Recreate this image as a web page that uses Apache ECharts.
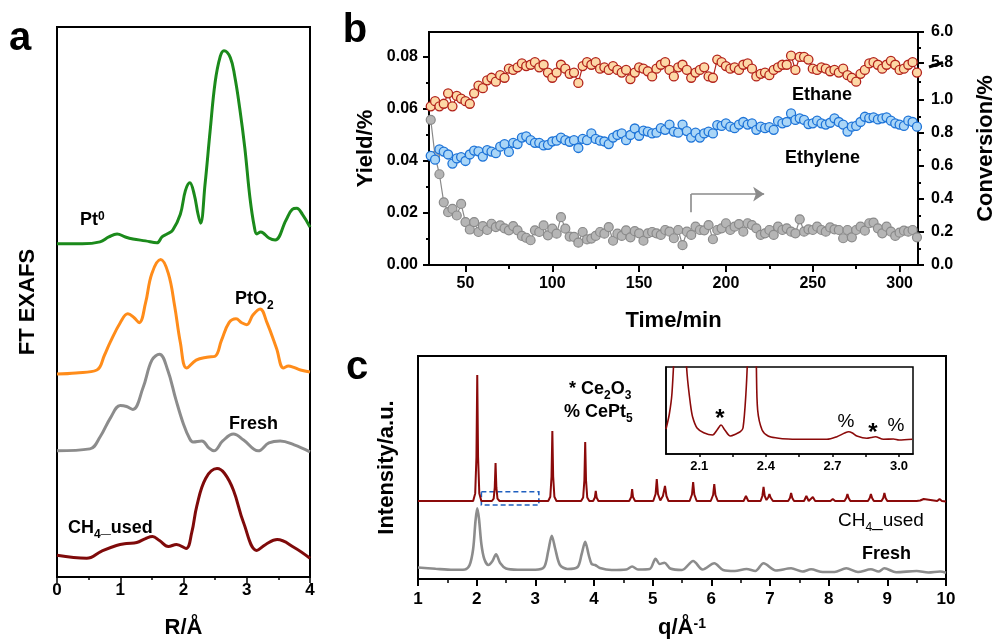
<!DOCTYPE html>
<html>
<head>
<meta charset="utf-8">
<script src="https://cdn.jsdelivr.net/npm/echarts@6/dist/echarts.min.js"></script>
<style>
  html, body { margin: 0; padding: 0; background: #fff; }
  #chart { width: 1005px; height: 644px; }
</style>
</head>
<body>
<div id="chart"></div>
<script>
const FONT = '"Liberation Sans", Arial, sans-serif';

// ---- panel a : FT EXAFS, [R, intensity a.u.] ----
const exafsPt0 = [[0,338],[0.4,338],[0.68,340],[0.82,345],[0.95,348],[1.08,345],[1.2,343],[1.4,341],[1.58,339],[1.66,345],[1.74,348],[1.83,352],[1.95,368],[2.03,392],[2.1,400],[2.17,388],[2.23,368],[2.27,359],[2.34,398],[2.42,452],[2.5,502],[2.58,528],[2.64,534],[2.74,527],[2.81,508],[2.89,475],[2.97,435],[3.05,385],[3.12,355],[3.16,348],[3.22,350],[3.26,349],[3.35,344],[3.45,342],[3.62,362],[3.72,373],[3.79,374],[3.88,368],[4.0,355]];
const exafsPtO2 = [[0,206],[0.3,207],[0.63,210],[0.75,225],[0.84,238],[1.0,258],[1.12,267],[1.22,263],[1.3,258],[1.4,278],[1.5,308],[1.64,322],[1.76,308],[1.86,275],[1.95,238],[2.05,212],[2.2,220],[2.37,223],[2.5,224],[2.6,240],[2.72,258],[2.83,262],[2.92,258],[3.0,256],[3.1,266],[3.21,272],[3.32,258],[3.47,232],[3.58,212],[3.66,214],[3.73,213],[3.85,210],[4.0,208]];
const exafsFresh = [[0,128],[0.52,130],[0.68,142],[0.85,162],[1.0,174],[1.1,173],[1.2,170],[1.36,192],[1.5,220],[1.62,226],[1.75,210],[1.88,180],[2.0,155],[2.1,140],[2.15,137],[2.29,138],[2.4,131],[2.48,128],[2.62,138],[2.79,145],[2.95,139],[3.18,128],[3.35,136],[3.53,138],[3.75,134],[4.0,127]];
const exafsUsed = [[0,22],[0.47,19],[0.7,26],[0.94,32],[1.1,34],[1.26,35],[1.4,39],[1.51,41],[1.62,37],[1.76,31],[1.89,33],[2.04,29],[2.13,45],[2.21,72],[2.35,100],[2.53,110],[2.65,105],[2.79,88],[2.95,55],[3.16,27],[3.3,33],[3.48,38],[3.75,30],[4.0,19]];

// ---- panel b : time on stream ----
const minutes = [30,32.5,35,37.5,40,42.5,45,47.5,50,52.5,
  55,57.5,60,62.5,65,67.5,70,72.5,75,77.5,
  80,82.5,85,87.5,90,92.5,95,97.5,100,102.5,
  105,107.5,110,112.5,115,117.5,120,122.5,125,127.5,
  130,132.5,135,137.5,140,142.5,145,147.5,150,152.5,
  155,157.5,160,162.5,165,167.5,170,172.5,175,177.5,
  180,182.5,185,187.5,190,192.5,195,197.5,200,202.5,
  205,207.5,210,212.5,215,217.5,220,222.5,225,227.5,
  230,232.5,235,237.5,240,242.5,245,247.5,250,252.5,
  255,257.5,260,262.5,265,267.5,270,272.5,275,277.5,
  280,282.5,285,287.5,290,292.5,295,297.5,300,302.5,
  305,307.5,310];
const ethaneYield = [0.061,0.063,0.061,0.062,0.066,0.061,0.065,0.064,0.063,0.062,
  0.066,0.069,0.068,0.071,0.072,0.0705,0.073,0.072,0.0755,0.075,
  0.076,0.0775,0.0765,0.077,0.078,0.076,0.077,0.074,0.072,0.074,
  0.077,0.0755,0.0735,0.074,0.070,0.0765,0.078,0.077,0.078,0.0755,
  0.076,0.075,0.0765,0.075,0.074,0.075,0.0715,0.074,0.076,0.0755,
  0.0745,0.0725,0.0755,0.077,0.078,0.075,0.0725,0.076,0.077,0.075,
  0.072,0.074,0.075,0.076,0.0725,0.072,0.079,0.078,0.0765,0.0755,
  0.076,0.075,0.077,0.0775,0.0755,0.0725,0.0735,0.074,0.073,0.075,
  0.076,0.077,0.077,0.0805,0.075,0.080,0.080,0.079,0.0755,0.075,
  0.076,0.0755,0.0745,0.075,0.074,0.0755,0.073,0.072,0.0705,0.0735,
  0.075,0.0775,0.078,0.077,0.0755,0.077,0.0785,0.077,0.075,0.0755,
  0.077,0.078,0.074];
const ethyleneYield = [0.042,0.0405,0.0445,0.0436,0.0425,0.039,0.041,0.0415,0.040,0.0425,
  0.044,0.0437,0.0417,0.0442,0.0436,0.043,0.0455,0.0465,0.0435,0.047,
  0.0465,0.049,0.0495,0.048,0.047,0.047,0.046,0.0462,0.0475,0.0478,
  0.049,0.048,0.0474,0.048,0.045,0.0485,0.048,0.0506,0.0485,0.0478,
  0.0475,0.0465,0.049,0.050,0.0506,0.048,0.050,0.0525,0.0497,0.0517,
  0.0513,0.0506,0.0509,0.0526,0.052,0.054,0.0513,0.0509,0.054,0.0515,
  0.049,0.0509,0.049,0.0506,0.0513,0.0506,0.0538,0.0535,0.0545,0.0532,
  0.0526,0.054,0.055,0.054,0.0545,0.052,0.0532,0.0526,0.053,0.052,
  0.0553,0.0545,0.055,0.0583,0.0558,0.0564,0.0558,0.0542,0.0545,0.0555,
  0.0545,0.054,0.0547,0.0564,0.055,0.054,0.0513,0.0532,0.0535,0.055,
  0.057,0.0565,0.0568,0.056,0.0564,0.0568,0.0555,0.0545,0.054,0.0535,
  0.0555,0.055,0.0532];
const conversion = [0.88,0.66,0.55,0.38,0.32,0.34,0.30,0.37,0.26,0.215,
  0.26,0.20,0.235,0.212,0.25,0.23,0.24,0.222,0.21,0.236,
  0.21,0.176,0.165,0.15,0.21,0.20,0.24,0.18,0.22,0.19,
  0.29,0.22,0.172,0.17,0.135,0.20,0.155,0.16,0.176,0.20,
  0.19,0.23,0.147,0.19,0.176,0.21,0.168,0.205,0.192,0.147,
  0.192,0.20,0.192,0.182,0.212,0.202,0.162,0.212,0.12,0.202,
  0.182,0.232,0.212,0.21,0.242,0.156,0.212,0.222,0.253,0.212,
  0.232,0.248,0.202,0.253,0.242,0.222,0.182,0.192,0.212,0.182,
  0.232,0.212,0.222,0.202,0.192,0.277,0.202,0.216,0.212,0.232,
  0.212,0.202,0.228,0.216,0.212,0.162,0.212,0.168,0.212,0.232,
  0.208,0.253,0.257,0.222,0.192,0.232,0.202,0.176,0.196,0.208,
  0.202,0.212,0.168];
const timeTicks = [50,100,150,200,250,300];
const timeMinor = [75,125,175,225,275];
const yieldTicks = [0,0.02,0.04,0.06,0.08];
const yieldMinor = [0.01,0.03,0.05,0.07];
// right axis is broken above 1.0: last two ticks read 5.8 and 6.0
const convTicks = [0,0.2,0.4,0.6,0.8,1.0,1.224,1.412];
const convLabels = ['0.0','0.2','0.4','0.6','0.8','1.0','5.8','6.0'];
const convMinor = [0.1,0.3,0.5,0.7,0.9,1.11,1.318];

// ---- panel c : diffraction, [q, intensity a.u.] ----
const xrdUsed = [[1.0,78],[1.94,78],[1.975,85.6],[1.996,122],[2.01,204],[2.024,122],[2.045,85.6],[2.08,78],
  [2.26,78],[2.29,80.3],[2.308,91.3],[2.322,116],[2.336,91.3],[2.355,80.3],[2.39,78],
  [3.22,78],[3.255,82.2],[3.276,102.5],[3.29,148],[3.304,102.5],[3.325,82.2],[3.36,78],
  [3.78,78],[3.815,81.5],[3.836,98.7],[3.85,137],[3.864,98.7],[3.885,81.5],[3.92,78],
  [3.985,78],[4.015,81.5],[4.03,88],[4.045,81.5],[4.075,78],
  [4.6,78],[4.635,82],[4.65,90],[4.665,82],[4.7,78],
  [5.01,78],[5.05,85],[5.07,100],[5.09,85],[5.13,78.5],[5.175,83],[5.21,93],[5.235,83],[5.27,78],
  [5.63,78],[5.67,84.5],[5.69,97],[5.71,84.5],[5.75,78],
  [5.99,78],[6.03,84],[6.05,95],[6.07,84],[6.11,78],
  [6.55,78],[6.59,83],[6.63,78],
  [6.84,78],[6.87,83],[6.89,92],[6.91,83],[6.94,79],[6.97,81.5],[6.99,85],[7.01,81.5],[7.05,78],
  [7.31,78],[7.34,81],[7.36,86],[7.38,81],[7.41,78],
  [7.58,78],[7.62,83],[7.66,78],[7.69,78],[7.73,82],[7.77,78],
  [8.03,78],[8.07,80],[8.11,78],
  [8.27,78],[8.3,81],[8.32,85],[8.34,81],[8.37,78],
  [8.67,78],[8.7,81],[8.72,85],[8.74,81],[8.77,78],
  [8.9,78],[8.93,81],[8.95,86],[8.97,81],[9.0,78],
  [9.5,78],[9.53,80],[9.56,78.5],[9.62,80],[9.65,78],
  [9.85,78],[9.89,80],[9.93,78],[10.0,77.5]];
const xrdFresh = [[1.0,11.5],[1.3,10.2],[1.6,9.2],[1.8,9.5],[1.88,14],[1.94,30],[1.98,58],[2.01,70.7],[2.04,60],[2.08,35],[2.13,20],[2.2,14],[2.27,18],[2.33,24.7],[2.4,16],[2.5,10.5],[2.7,9.3],[3.0,9.3],[3.15,12],[3.22,28],[3.28,43.3],[3.34,30],[3.42,14],[3.55,10],[3.72,12],[3.79,25],[3.85,37.3],[3.91,24],[3.96,15],[4.02,14],[4.1,11],[4.3,9],[4.55,9.5],[4.65,12.5],[4.75,9.5],[4.95,10],[5.05,20.3],[5.12,15],[5.2,16.3],[5.3,10.5],[5.5,9],[5.69,18],[5.85,9.5],[6.05,15.7],[6.2,9],[6.4,8],[6.6,10],[6.75,8],[6.89,15.7],[7.1,8.5],[7.36,10.7],[7.55,7.5],[7.7,9.7],[7.9,7],[8.1,7],[8.3,10.7],[8.5,7],[8.72,9.7],[8.85,7.5],[8.95,10.7],[9.15,6.8],[9.5,8],[9.7,6.5],[9.9,7.5],[10.0,6.3]];
const insetUsed = [[1.95,25],[1.965,40],[1.977,61],[1.99,120],[2.0,200],[2.02,200],[2.035,120],[2.045,80],[2.06,50],[2.07,37],[2.09,26],[2.12,21.3],[2.16,19],[2.18,24],[2.198,29],[2.215,24],[2.24,18],[2.265,20],[2.285,22.3],[2.297,26],[2.31,60],[2.318,100],[2.33,200],[2.345,200],[2.357,90],[2.363,44],[2.383,24],[2.41,18],[2.45,16],[2.5,15],[2.6,14.7],[2.675,14.7],[2.72,17.3],[2.755,21],[2.773,22.3],[2.79,21],[2.81,18],[2.855,15.7],[2.875,16.5],[2.893,17.3],[2.93,14.7],[2.975,15],[3.0,14],[3.06,14.7]];
const insetTicks = [2.1,2.4,2.7,3.0];
const insetMinor = [2.1,2.25,2.4,2.55,2.7,2.85,3.0];

const chart = echarts.init(document.getElementById('chart'));

const black = '#000';
const nameStyle = { color: black, fontSize: 22, fontWeight: 'bold', fontFamily: FONT };
const tickLabel = (size, margin) => ({ color: black, fontSize: size, fontWeight: 'bold', fontFamily: FONT, margin: margin });
const line2 = { lineStyle: { color: black, width: 2 } };
const noSplit = { show: false };

function txt(x, y, text, size, weight, rich) {
  const s = { text: text, fill: black, font: weight + ' ' + size + 'px ' + FONT, align: 'left', verticalAlign: 'middle' };
  if (rich) s.rich = rich;
  return { type: 'text', x: x, y: y, z: 100, style: s };
}
function richSet(size, weight) {
  return {
    b: { fontSize: size, fontWeight: weight, fontFamily: FONT, lineHeight: size, verticalAlign: 'top', color: black },
    sub: { fontSize: Math.round(size * 0.65), fontWeight: weight, fontFamily: FONT, lineHeight: Math.round(size * 0.65), padding: [Math.round(size * 0.55), 0, 0, 0], verticalAlign: 'top', color: black },
    sup: { fontSize: Math.round(size * 0.65), fontWeight: weight, fontFamily: FONT, lineHeight: Math.round(size * 0.65), verticalAlign: 'top', color: black }
  };
}

const option = {
  animation: false,
  backgroundColor: '#fff',
  grid: [
    { left: 57, top: 27, width: 253, height: 558, show: true, borderColor: black, borderWidth: 2 },
    { left: 429, top: 32, width: 507, height: 233, show: true, borderColor: black, borderWidth: 2 },
    { left: 418, top: 356, width: 528, height: 223, show: true, borderColor: black, borderWidth: 2 },
    { left: 666, top: 367, width: 247, height: 87, show: true, borderColor: black, borderWidth: 1.5, backgroundColor: '#fff' }
  ],
  xAxis: [
    { gridIndex: 0, type: 'value', min: 0, max: 4, interval: 1, position: 'bottom',
      axisLine: line2, axisTick: { length: 6, lineStyle: { width: 1.5 } },
      minorTick: { show: true, splitNumber: 2, length: 3, lineStyle: { color: black, width: 1.5 } },
      axisLabel: tickLabel(17, 5), splitLine: noSplit,
      name: 'R/Å', nameLocation: 'middle', nameGap: 40, nameTextStyle: nameStyle },
    { gridIndex: 1, type: 'value', min: 29, max: 310.6, position: 'bottom',
      axisLine: line2, axisTick: { customValues: timeTicks, length: 7, lineStyle: { width: 2 } },
      axisLabel: Object.assign(tickLabel(16, 11), { customValues: timeTicks }), splitLine: noSplit,
      name: 'Time/min', nameLocation: 'middle', nameGap: 45, nameTextStyle: nameStyle },
    { gridIndex: 1, type: 'value', min: 29, max: 310.6, position: 'bottom',
      axisLine: { show: false }, axisTick: { customValues: timeMinor, length: 4, lineStyle: { color: black, width: 2 } },
      axisLabel: { show: false }, splitLine: noSplit },
    { gridIndex: 2, type: 'value', min: 1, max: 10, interval: 1, position: 'bottom',
      axisLine: line2, axisTick: { length: 7, lineStyle: { width: 2 } },
      minorTick: { show: true, splitNumber: 2, length: 4, lineStyle: { color: black, width: 1.5 } },
      axisLabel: tickLabel(17, 12), splitLine: noSplit,
      name: '{a|q/Å}{s|-1}', nameLocation: 'middle', nameGap: 38,
      nameTextStyle: { rich: {
        a: { fontSize: 22, fontWeight: 'bold', fontFamily: FONT, color: black, lineHeight: 22, verticalAlign: 'top' },
        s: { fontSize: 14, fontWeight: 'bold', fontFamily: FONT, color: black, lineHeight: 14, verticalAlign: 'top' } } } },
    { gridIndex: 3, type: 'value', min: 1.95, max: 3.063, position: 'bottom',
      axisLine: { lineStyle: { color: black, width: 1.5 } },
      axisTick: { customValues: insetMinor, length: 3, lineStyle: { width: 1.5 } },
      axisLabel: Object.assign(tickLabel(13, 6), { customValues: insetTicks, formatter: v => v.toFixed(1) }),
      splitLine: noSplit }
  ],
  yAxis: [
    { gridIndex: 0, type: 'value', min: 0, max: 558, position: 'left',
      axisLine: line2, axisTick: { show: false }, axisLabel: { show: false }, splitLine: noSplit,
      name: 'FT EXAFS', nameLocation: 'middle', nameGap: 18, nameTextStyle: nameStyle },
    { gridIndex: 1, type: 'value', min: 0, max: 0.0896, position: 'left',
      axisLine: line2, axisTick: { customValues: yieldTicks, length: 6, lineStyle: { width: 2 } },
      axisLabel: Object.assign(tickLabel(16, 11), { customValues: yieldTicks, formatter: v => v.toFixed(2) }),
      splitLine: noSplit,
      name: 'Yield/%', nameLocation: 'middle', nameGap: 52, nameTextStyle: nameStyle },
    { gridIndex: 1, type: 'value', min: 0, max: 1.412, position: 'right',
      axisLine: line2, axisTick: { customValues: convTicks, length: 6, lineStyle: { width: 2 } },
      axisLabel: Object.assign(tickLabel(16, 13), { customValues: convTicks,
        formatter: v => { let k = 0; convTicks.forEach((t, i) => { if (Math.abs(t - v) < Math.abs(convTicks[k] - v)) k = i; }); return convLabels[k]; } }),
      splitLine: noSplit,
      name: 'Conversion/%', nameLocation: 'middle', nameGap: 57, nameTextStyle: nameStyle },
    { gridIndex: 1, type: 'value', min: 0, max: 0.0896, position: 'left',
      axisLine: { show: false }, axisTick: { customValues: yieldMinor, length: 3, lineStyle: { color: black, width: 2 } },
      axisLabel: { show: false }, splitLine: noSplit },
    { gridIndex: 1, type: 'value', min: 0, max: 1.412, position: 'right',
      axisLine: { show: false }, axisTick: { customValues: convMinor, length: 3, lineStyle: { color: black, width: 2 } },
      axisLabel: { show: false }, splitLine: noSplit },
    { gridIndex: 2, type: 'value', min: 0, max: 223, position: 'left',
      axisLine: line2, axisTick: { show: false }, axisLabel: { show: false }, splitLine: noSplit,
      name: 'Intensity/a.u.', nameLocation: 'middle', nameGap: 20, nameTextStyle: nameStyle },
    { gridIndex: 3, type: 'value', min: 0, max: 87, position: 'left',
      axisLine: { lineStyle: { color: black, width: 1.5 } }, axisTick: { show: false }, axisLabel: { show: false }, splitLine: noSplit }
  ],
  series: [
    // panel a
    { type: 'line', xAxisIndex: 0, yAxisIndex: 0, data: exafsPt0, smooth: 0.4, showSymbol: false, lineStyle: { color: '#1b8a1b', width: 3 } },
    { type: 'line', xAxisIndex: 0, yAxisIndex: 0, data: exafsPtO2, smooth: 0.4, showSymbol: false, lineStyle: { color: '#ff8c1a', width: 3 } },
    { type: 'line', xAxisIndex: 0, yAxisIndex: 0, data: exafsFresh, smooth: 0.4, showSymbol: false, lineStyle: { color: '#8c8c8c', width: 3 } },
    { type: 'line', xAxisIndex: 0, yAxisIndex: 0, data: exafsUsed, smooth: 0.4, showSymbol: false, lineStyle: { color: '#7f0a0a', width: 3 } },
    // panel b
    { type: 'line', name: 'Conversion', xAxisIndex: 1, yAxisIndex: 2,
      data: minutes.map((t, i) => [t, conversion[i]]),
      symbol: 'circle', symbolSize: 9, lineStyle: { color: '#8a8a8a', width: 1.2 },
      itemStyle: { color: '#b5b5b5', borderColor: '#8a8a8a', borderWidth: 1.2 },
      markLine: { silent: true, symbol: ['none', 'arrow'], symbolSize: 11, animation: false,
        label: { show: false }, lineStyle: { color: '#8a8a8a', width: 1.6, type: 'solid' },
        data: [
          [{ coord: [180, 0.32], symbol: 'none' }, { coord: [180, 0.43], symbol: 'none' }],
          [{ coord: [180, 0.43] }, { coord: [222, 0.43] }]
        ] } },
    { type: 'line', name: 'Ethylene', xAxisIndex: 1, yAxisIndex: 1,
      data: minutes.map((t, i) => [t, ethyleneYield[i]]),
      symbol: 'circle', symbolSize: 9, lineStyle: { color: '#1e74d8', width: 1.2 },
      itemStyle: { color: '#aad6f7', borderColor: '#1e74d8', borderWidth: 1.3 } },
    { type: 'line', name: 'Ethane', xAxisIndex: 1, yAxisIndex: 1,
      data: minutes.map((t, i) => [t, ethaneYield[i]]),
      symbol: 'circle', symbolSize: 9, lineStyle: { color: '#b3231b', width: 1.2 },
      itemStyle: { color: '#fdd8a6', borderColor: '#b3231b', borderWidth: 1.3 } },
    // panel c
    { type: 'line', xAxisIndex: 3, yAxisIndex: 5, data: xrdFresh, smooth: 0.3, showSymbol: false, lineStyle: { color: '#8c8c8c', width: 2.6 } },
    { type: 'line', xAxisIndex: 3, yAxisIndex: 5, data: xrdUsed, showSymbol: false, lineStyle: { color: '#8b0a0a', width: 2 },
      markArea: { silent: true, itemStyle: { color: 'rgba(0,0,0,0)', borderColor: '#1f5fbf', borderWidth: 1.6, borderType: [5, 3] },
        data: [[{ coord: [2.08, 87.3] }, { coord: [3.06, 74] }]] } },
    { type: 'line', xAxisIndex: 4, yAxisIndex: 6, data: insetUsed, smooth: 0.3, showSymbol: false, clip: true, z: 5, lineStyle: { color: '#8b0a0a', width: 1.6 } }
  ],
  graphic: [
    { type: 'text', x: 20, y: 39, z: 100, style: { text: 'a', fill: black, font: 'bold 40px ' + FONT, align: 'center', verticalAlign: 'middle' } },
    { type: 'text', x: 355, y: 31, z: 100, style: { text: 'b', fill: black, font: 'bold 40px ' + FONT, align: 'center', verticalAlign: 'middle' } },
    { type: 'text', x: 357, y: 368, z: 100, style: { text: 'c', fill: black, font: 'bold 40px ' + FONT, align: 'center', verticalAlign: 'middle' } },
    // panel a labels
    txt(80, 220, '{b|Pt}{sup|0}', 18, 'bold', richSet(18, 'bold')),
    txt(235, 299, '{b|PtO}{sub|2}', 18, 'bold', richSet(18, 'bold')),
    txt(229, 424, 'Fresh', 18, 'bold'),
    txt(68, 528, '{b|CH}{sub|4}{b|_used}', 18, 'bold', richSet(18, 'bold')),
    // panel b labels
    txt(792, 95, 'Ethane', 18, 'bold'),
    txt(785, 158, 'Ethylene', 18, 'bold'),
    { type: 'line', z: 100, shape: { x1: 929, y1: 67, x2: 943, y2: 62.5 }, style: { stroke: black, lineWidth: 3 } },
    // panel c labels
    txt(569, 389, '{b|* Ce}{sub|2}{b|O}{sub|3}', 18, 'bold', richSet(18, 'bold')),
    txt(564, 412, '{b|% CePt}{sub|5}', 18, 'bold', richSet(18, 'bold')),
    txt(838, 521, '{b|CH}{sub|4}{b|_used}', 19, 'normal', richSet(19, 'normal')),
    txt(862, 554, 'Fresh', 18, 'bold'),
    // inset markers
    { type: 'text', x: 720, y: 419, z: 100, style: { text: '*', fill: black, font: 'bold 24px ' + FONT, align: 'center', verticalAlign: 'middle' } },
    { type: 'text', x: 846, y: 422, z: 100, style: { text: '%', fill: black, font: '19px ' + FONT, align: 'center', verticalAlign: 'middle' } },
    { type: 'text', x: 873, y: 433, z: 100, style: { text: '*', fill: black, font: 'bold 24px ' + FONT, align: 'center', verticalAlign: 'middle' } },
    { type: 'text', x: 896, y: 426, z: 100, style: { text: '%', fill: black, font: '19px ' + FONT, align: 'center', verticalAlign: 'middle' } }
  ]
};

chart.setOption(option);
window.addEventListener('resize', function () { chart.resize(); });
</script>
</body>
</html>
